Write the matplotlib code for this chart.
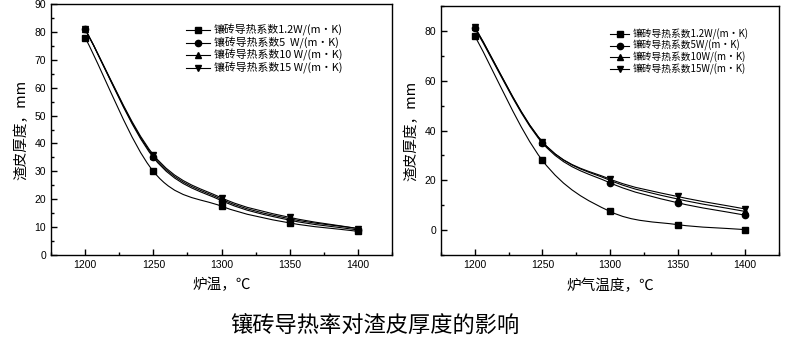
import numpy as np
import matplotlib
matplotlib.use("Agg")
import matplotlib.pyplot as plt
from matplotlib.path import Path
from matplotlib.patches import PathPatch
from matplotlib.lines import Line2D
from matplotlib.ticker import MultipleLocator

plt.rcParams['font.family'] = ['Noto Sans CJK SC', 'DejaVu Sans']

# furnace temperature, C
temps = [1200, 1250, 1300, 1350, 1400]

# slag thickness (mm), left chart: furnace temperature
left_k12 = [78.0, 30.0, 17.5, 11.5, 8.5]
left_k5 = [81.0, 35.0, 19.5, 12.5, 9.0]
left_k10 = [81.0, 35.5, 20.0, 13.0, 9.5]
left_k15 = [81.0, 36.0, 20.5, 13.5, 9.5]

# slag thickness (mm), right chart: furnace gas temperature
right_k12 = [78.0, 28.0, 7.5, 2.2, 0.2]
right_k5 = [81.0, 35.0, 19.0, 11.0, 6.0]
right_k10 = [81.5, 35.5, 20.0, 12.5, 7.5]
right_k15 = [81.5, 35.5, 20.5, 13.5, 8.5]

left_labels = ["镶砖导热系数1.2W/(m·K)", "镶砖导热系数5  W/(m·K)",
               "镶砖导热系数10 W/(m·K)", "镶砖导热系数15 W/(m·K)"]
right_labels = ["镶砖导热系数1.2W/(m·K)", "镶砖导热系数5W/(m·K)",
                "镶砖导热系数10W/(m·K)", "镶砖导热系数15W/(m·K)"]
markers = ["s", "o", "^", "v"]


def smooth_line(ax, xs, ys, lw=0.8):
    # smooth curve through the points (catmull-rom as cubic bezier)
    p = np.column_stack([xs, ys]).astype(float)
    n = len(p)
    t = np.zeros_like(p)
    t[0] = p[1] - p[0]
    t[-1] = p[-1] - p[-2]
    for i in range(1, n - 1):
        t[i] = (p[i + 1] - p[i - 1]) / 2
    verts = [p[0]]
    codes = [Path.MOVETO]
    for i in range(n - 1):
        verts += [p[i] + t[i] / 3, p[i + 1] - t[i + 1] / 3, p[i + 1]]
        codes += [Path.CURVE4] * 3
    ax.add_patch(PathPatch(Path(verts, codes), fill=False, lw=lw,
                           edgecolor="black", zorder=2))


def setup(ax, ylim, ymaj, ymin):
    ax.set_xlim(1175, 1425)
    ax.set_ylim(*ylim)
    ax.xaxis.set_major_locator(MultipleLocator(50))
    ax.xaxis.set_minor_locator(MultipleLocator(25))
    ax.yaxis.set_major_locator(MultipleLocator(ymaj))
    ax.yaxis.set_minor_locator(MultipleLocator(ymin))
    ax.tick_params(which="both", direction="in", width=1.0)
    ax.tick_params(which="major", length=4, labelsize=7.5)
    ax.tick_params(which="minor", length=2.5)
    for lab in ax.get_xticklabels() + ax.get_yticklabels():
        lab.set_family(["Liberation Sans", "DejaVu Sans"])
    for s in ax.spines.values():
        s.set_linewidth(1.0)


fig = plt.figure(figsize=(7.95, 3.49), dpi=100)
ax1 = fig.add_axes([0.0642, 0.2693, 0.429, 0.719])
ax2 = fig.add_axes([0.5547, 0.2693, 0.4252, 0.7135])

handles = []
for ys, m in zip([left_k12, left_k5, left_k10, left_k15], markers):
    smooth_line(ax1, temps, ys)
    ax1.plot(temps, ys, linestyle="none", marker=m, ms=4.5, color="black", zorder=3)
    handles.append(Line2D([], [], color="black", lw=0.8, marker=m, ms=4.5))
setup(ax1, (0, 90), 10, 5)
ax1.set_xlabel("炉温，℃", fontsize=10.5, labelpad=6)
ax1.set_ylabel("渣皮厚度，mm", fontsize=10.5, labelpad=4)
ax1.legend(handles, left_labels, loc="upper left", bbox_to_anchor=(0.397, 0.92),
           frameon=False, fontsize=7.8, handlelength=2.2, handletextpad=0.3,
           labelspacing=0.04, borderpad=0, borderaxespad=0)

handles = []
for ys, m in zip([right_k12, right_k5, right_k10, right_k15], markers):
    smooth_line(ax2, temps, ys)
    ax2.plot(temps, ys, linestyle="none", marker=m, ms=4.5, color="black", zorder=3)
    handles.append(Line2D([], [], color="black", lw=0.8, marker=m, ms=4.5))
setup(ax2, (-10, 90), 20, 10)
ax2.set_xlabel("炉气温度，℃", fontsize=10.5, labelpad=6)
ax2.set_ylabel("渣皮厚度，mm", fontsize=10.5, labelpad=4)
ax2.legend(handles, right_labels, loc="upper left", bbox_to_anchor=(0.5, 0.91),
           frameon=False, fontsize=7, handlelength=2.0, handletextpad=0.3,
           labelspacing=0.04, borderpad=0, borderaxespad=0)

fig.text(0.472, 0.069, "镶砖导热率对渣皮厚度的影响", fontsize=16,
         ha="center", va="center")

fig.savefig("out.png", dpi=100)
